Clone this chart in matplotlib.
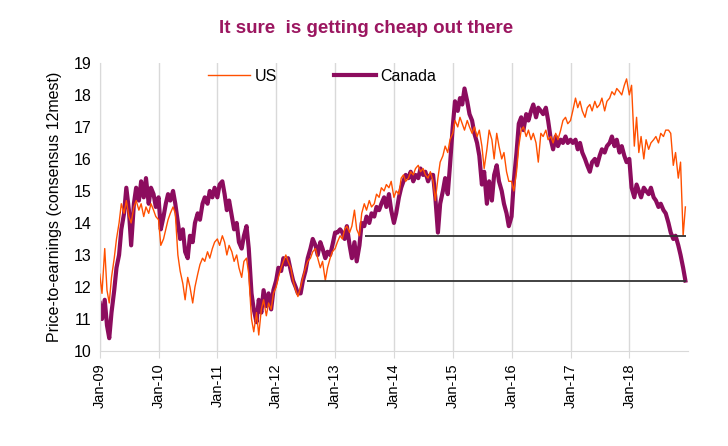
import matplotlib
matplotlib.use('Agg')
import matplotlib.pyplot as plt
import matplotlib.dates as mdates
import pandas as pd

plt.rcParams['font.family'] = ['Liberation Sans', 'DejaVu Sans']

# Forward P/E (consensus 12m est), two readings per month
us_pe = [
    # 2009
    12.4, 11.8, 13.2, 11.9, 11.5, 12.3, 12.9, 13.5, 14.0, 14.6, 14.3, 14.7,
    14.2, 14.0, 14.5, 14.7, 14.4, 14.6, 14.2, 14.5, 14.3, 14.6, 14.4, 14.2,
    # 2010
    14.1, 13.3, 13.5, 13.8, 14.1, 14.3, 14.5, 14.3, 13.0, 12.5, 12.1, 11.6,
    12.3, 12.0, 11.5, 12.0, 12.4, 12.7, 12.9, 12.8, 13.1, 12.9, 13.2, 13.4,
    # 2011
    13.5, 13.3, 13.6, 13.4, 13.0, 13.3, 13.1, 12.8, 13.0, 12.6, 12.3, 12.8,
    12.9, 12.4, 11.0, 10.6, 11.2, 10.5, 11.3, 11.6, 11.1, 11.5, 11.3, 11.8,
    # 2012
    12.0, 12.3, 12.6, 12.8, 13.0, 12.8, 12.6, 12.2, 11.9, 11.7, 12.0, 12.3,
    12.6, 12.8, 12.9, 13.1, 13.2, 12.9, 12.6, 12.8, 12.2, 12.6, 12.9, 13.1,
    # 2013
    13.2, 13.4, 13.6, 13.5, 13.8, 13.9, 13.7, 13.9, 14.4, 13.8, 13.6, 14.3,
    14.6, 14.4, 14.7, 14.5, 14.6, 14.9, 14.8, 15.1, 15.0, 15.2, 15.1, 15.3,
    # 2014
    14.8, 15.0, 14.9, 15.4, 15.5, 15.3, 15.4, 15.6, 15.5, 15.7, 15.8, 15.6,
    15.7, 15.5, 15.4, 15.6, 15.3, 14.7, 15.4, 15.9, 16.1, 16.4, 16.2, 16.6,
    # 2015
    16.8, 17.2, 17.0, 17.3, 17.1, 16.9, 17.2, 17.0, 16.8, 17.0, 16.7, 16.9,
    16.4, 15.7, 16.3, 16.9, 16.6, 16.0, 16.8, 16.4, 16.0, 16.2, 15.6, 15.3,
    # 2016
    15.3, 15.0, 15.6, 16.4, 16.9, 17.0, 16.7, 16.9, 16.6, 16.8, 16.5, 15.9,
    16.8, 16.7, 16.9, 16.6, 16.7, 16.5, 16.8, 16.6, 16.9, 17.2, 17.3, 17.1,
    # 2017
    17.2, 17.5, 17.9, 17.6, 17.8, 17.5, 17.3, 17.6, 17.7, 17.5, 17.8, 17.6,
    17.7, 17.9, 17.5, 17.8, 17.9, 18.1, 18.0, 18.2, 18.1, 18.0, 18.3, 18.5,
    # 2018
    18.0, 18.3, 16.4, 17.3, 16.2, 16.7, 16.0, 16.6, 16.3, 16.5, 16.6, 16.7,
    16.5, 16.8, 16.7, 16.9, 16.9, 16.8, 15.8, 16.2, 15.4, 15.9, 13.6, 14.5,
]

canada_pe = [
    # 2009
    11.5, 11.0, 11.6, 10.8, 10.4, 11.2, 11.9, 12.6, 13.0, 13.8, 14.3, 15.1,
    14.4, 13.3, 14.6, 15.1, 14.7, 15.3, 14.8, 15.4, 14.6, 15.1, 14.9, 14.5,
    # 2010
    14.8, 13.8, 14.2, 14.6, 14.9, 14.7, 15.0, 14.6, 14.0, 13.5, 13.8, 13.1,
    12.9, 13.6, 13.4, 14.0, 14.3, 14.1, 14.6, 14.8, 14.6, 15.0, 14.8, 15.1,
    # 2011
    14.8, 15.2, 15.3, 14.9, 14.4, 14.7, 14.2, 13.8, 14.0, 13.4, 13.2, 13.6,
    13.9, 13.2, 11.8, 11.3, 10.9, 11.6, 11.2, 11.9, 11.4, 11.8, 11.3, 11.9,
    # 2012
    12.2, 12.6, 12.5, 12.9, 12.7, 12.9, 12.5, 12.2, 12.0, 11.8, 11.8, 12.2,
    12.5, 12.9, 13.2, 13.5, 13.3, 13.0, 13.4, 13.2, 12.9, 13.1, 13.0, 13.3,
    # 2013
    13.7, 13.7, 13.8, 13.7, 13.5, 13.9, 13.3, 12.9, 13.4, 12.8, 13.3, 14.0,
    13.9, 14.2, 14.0, 14.3, 14.2, 14.5, 14.4, 14.6, 14.8, 14.5, 14.9, 14.4,
    # 2014
    14.0, 14.3, 14.8, 15.1, 15.3, 15.5, 15.4, 15.6, 15.3, 15.5, 15.4, 15.7,
    15.5, 15.6, 15.3, 15.5, 15.5, 14.8, 13.7, 14.6, 15.0, 15.4, 14.9, 15.8,
    # 2015
    17.0, 17.8, 17.5, 17.9, 17.7, 18.2, 17.8, 17.4, 17.2, 16.8, 16.5, 16.1,
    15.2, 15.6, 14.6, 15.3, 14.7, 15.5, 15.8, 15.3, 15.0, 14.6, 14.3, 13.9,
    # 2016
    14.2, 15.3, 16.2, 17.1, 17.3, 16.9, 17.4, 17.2, 17.5, 17.7, 17.3, 17.6,
    17.5, 17.4, 17.6, 17.2, 16.6, 16.3, 16.7, 16.4, 16.6, 16.5, 16.7, 16.5,
    # 2017
    16.6, 16.5, 16.6, 16.3, 16.5, 16.2, 16.0, 15.8, 15.6, 15.9, 16.0, 15.8,
    16.1, 16.3, 16.2, 16.4, 16.5, 16.7, 16.4, 16.6, 16.2, 16.4, 16.1, 15.9,
    # 2018
    16.0, 15.1, 14.8, 15.2, 15.0, 14.8, 15.1, 15.0, 14.9, 15.1, 14.8, 14.7,
    14.5, 14.6, 14.4, 14.3, 14.0, 13.7, 13.5, 13.6, 13.3, 13.0, 12.6, 12.2,
]

dates = pd.date_range('2009-01-01', periods=len(us_pe), freq='SMS')

# reference levels (horizontal black lines) and where they start
ref_levels = [12.2, 13.6]
ref_starts = ['2012-07-10', '2013-07-05']
ref_end = '2018-12-20'

us_color = '#FF5000'
ca_color = '#8C0C5E'

fig = plt.figure(figsize=(7.28, 4.46), dpi=100)
ax = fig.add_axes([0.137, 0.213, 0.808, 0.646])

ax.plot(dates, us_pe, color=us_color, lw=1.0, label='US', zorder=3)
ax.plot(dates, canada_pe, color=ca_color, lw=3.0, label='Canada', zorder=2)
for lvl, start in zip(ref_levels, ref_starts):
    ax.hlines(lvl, pd.Timestamp(start), pd.Timestamp(ref_end), color='#333333', lw=1.3, zorder=4)

ax.set_ylim(10, 19)
ax.set_yticks(range(10, 20))
ax.set_xlim(pd.Timestamp('2009-01-01'), pd.Timestamp('2018-12-31'))
ax.xaxis.set_major_formatter(mdates.DateFormatter('%b-%y'))
ax.set_xticks(pd.date_range('2009-01-01', '2018-01-01', freq='YS'))
plt.setp(ax.get_xticklabels(), rotation=90)

ax.grid(axis='x', color='#D9D9D9', lw=1)
ax.set_axisbelow(True)
for s in ['top', 'right']:
    ax.spines[s].set_visible(False)
for s in ['left', 'bottom']:
    ax.spines[s].set_color('#D9D9D9')
ax.tick_params(axis='y', length=0, labelsize=11.5, pad=6)
ax.tick_params(axis='x', length=5, color='#D9D9D9', labelsize=10.5, pad=4)

ax.set_ylabel('Price-to-earnings (consensus 12mest)', fontsize=11.5, labelpad=8)

ax.legend(loc='upper left', bbox_to_anchor=(0.16, 1.03), ncol=2, frameon=False,
          fontsize=11.5, handlelength=2.6, handletextpad=0.3, columnspacing=3.6)

fig.text(0.503, 0.937, 'It sure  is getting cheap out there', ha='center', va='center',
         fontsize=13.5, fontweight='bold', color='#9B1660',
         family=['Liberation Sans Narrow', 'Liberation Sans', 'DejaVu Sans'])

fig.savefig('out.png', dpi=100)
